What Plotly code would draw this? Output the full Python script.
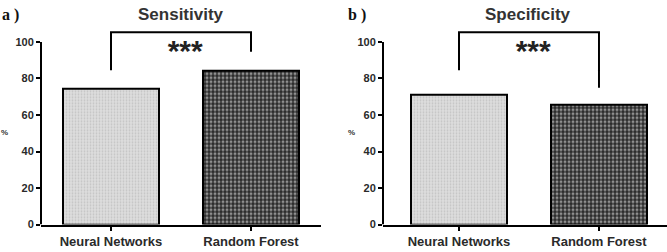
import plotly.graph_objects as go

categories = ["Neural Networks", "Random Forest"]
sensitivity = [74.3, 84.5]
specificity = [71.1, 65.8]
panel_titles = ["Sensitivity", "Specificity"]
panel_letters = ["a )", "b )"]
bracket_top = [105.3, 105.3]
bracket_legs = [[84.5, 94.6], [84.5, 74.9]]
sig_label = "***"
y_ticks = [0, 20, 40, 60, 80, 100]

W, H = 667, 252
y_range = [0, 110]
y_dom = [(H - 230) / H, (H - 24.3) / H]
x_doms = [[41 / W, 321 / W], [383 / W, 1.0]]
x_ranges = [[-0.5, 1.5], [-0.543, 1.486]]

fig = go.Figure()
font_main = "Liberation Sans, Arial, sans-serif"
patterns = [
    dict(shape=".", size=3, solidity=0.3, fgcolor="#a8a8a8", bgcolor="#dedede"),
    dict(shape=".", size=4, solidity=0.45, fgcolor="#f4f4f4", bgcolor="#2a2a2a"),
]

for i, vals in enumerate([sensitivity, specificity]):
    xa = "x" if i == 0 else "x2"
    ya = "y" if i == 0 else "y2"
    for j, (c, v) in enumerate(zip(categories, vals)):
        fig.add_trace(go.Bar(
            x=[j], y=[v], width=0.68, xaxis=xa, yaxis=ya,
            marker=dict(color="#dedede" if j == 0 else "#2a2a2a",
                        pattern=patterns[j],
                        line=dict(color="black", width=2)),
            showlegend=False,
        ))
    legs = bracket_legs[i]
    top = bracket_top[i]
    fig.add_trace(go.Scatter(
        x=[0, 0, 1, 1], y=[legs[0], top, top, legs[1]],
        mode="lines", line=dict(color="black", width=2),
        xaxis=xa, yaxis=ya, showlegend=False, cliponaxis=False,
    ))
    fig.add_trace(go.Scatter(
        x=[0.53], y=[93.5], mode="text", text=[f"<b>{sig_label}</b>"],
        textfont=dict(family=font_main, size=30, color="#222"),
        xaxis=xa, yaxis=ya, showlegend=False, cliponaxis=False,
    ))
    fig.add_shape(type="line", xref=f"{xa} domain", yref=ya,
                  x0=0, x1=0, y0=0, y1=100,
                  line=dict(color="black", width=2))

axis_common_x = dict(
    tickmode="array", tickvals=[0, 1], ticktext=[f"<b>{c}</b>" for c in categories],
    ticks="outside", ticklen=4, tickwidth=2, tickcolor="black",
    showline=True, linecolor="black", linewidth=2,
    showgrid=False, zeroline=False,
    tickfont=dict(family=font_main, size=13, color="#2a2a2a"),
)
axis_common_y = dict(
    range=y_range, domain=y_dom,
    tickmode="array", tickvals=y_ticks, ticktext=[f"<b>{t}</b>" for t in y_ticks],
    ticks="outside", ticklen=4, tickwidth=2, tickcolor="black",
    showline=False, showgrid=False, zeroline=False,
    tickfont=dict(family=font_main, size=11, color="#2a2a2a"),
)

fig.update_layout(
    width=W, height=H,
    margin=dict(l=0, r=0, t=0, b=0),
    paper_bgcolor="white", plot_bgcolor="white",
    bargap=0,
    xaxis=dict(domain=x_doms[0], range=x_ranges[0], anchor="y", **axis_common_x),
    yaxis=dict(anchor="x", **axis_common_y),
    xaxis2=dict(domain=x_doms[1], range=x_ranges[1], anchor="y2", **axis_common_x),
    yaxis2=dict(anchor="x2", **axis_common_y),
)

annots = []
for i in range(2):
    annots.append(dict(text=f"<b>{panel_titles[i]}</b>", xref="paper", yref="paper",
                       x=[181 / W, 528 / W][i], y=(H - 15) / H, showarrow=False,
                       xanchor="center", yanchor="middle",
                       font=dict(family=font_main, size=17, color="#333")))
    annots.append(dict(text=f"<b>{panel_letters[i]}</b>", xref="paper", yref="paper",
                       x=[0, 346 / W][i], y=(H - 15) / H, showarrow=False,
                       xanchor="left", yanchor="middle",
                       font=dict(family="Liberation Serif, Times New Roman, serif", size=16, color="#111")))
    annots.append(dict(text="<b>%</b>", xref="paper", yref="paper",
                       x=[4 / W, 351 / W][i], y=(H - 136) / H, showarrow=False,
                       xanchor="center", yanchor="middle",
                       font=dict(family=font_main, size=8, color="#333")))
fig.update_layout(annotations=annots)

fig.write_html("out.html")
